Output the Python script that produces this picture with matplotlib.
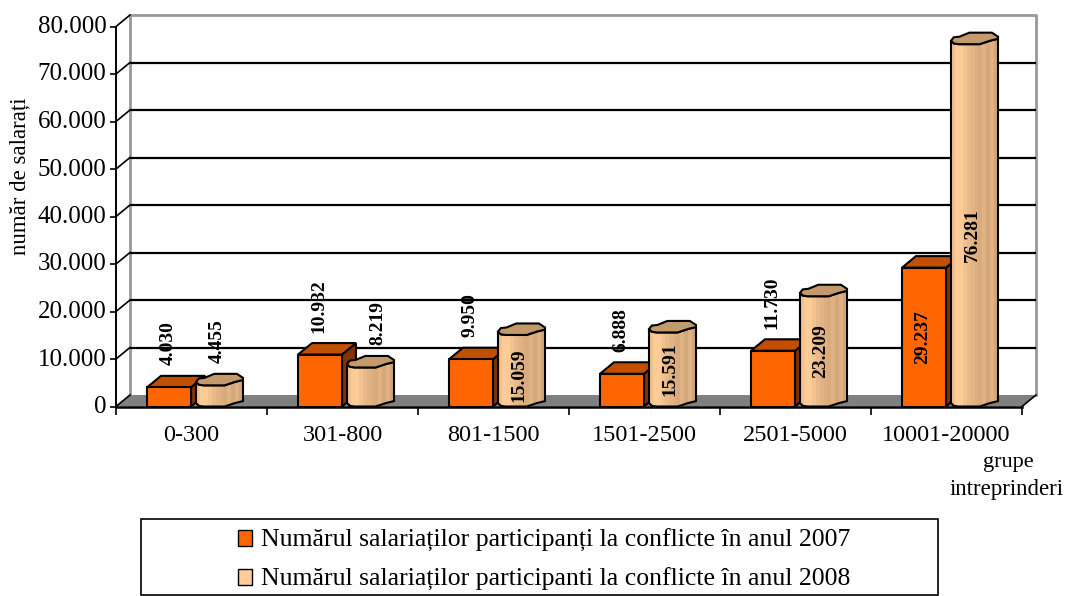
import numpy as np
import matplotlib
matplotlib.use("Agg")
import matplotlib.pyplot as plt
from matplotlib.patches import Polygon, Rectangle, Patch
from matplotlib.transforms import ScaledTranslation

# =========================
# Data
# =========================
categories = ["0-300", "301-800", "801-1500", "1501-2500", "2501-5000", "10001-20000"]
values_2007 = [4030, 10932, 9950, 6888, 11730, 29237]
values_2008 = [4455, 8219, 15059, 15591, 23209, 76281]
y_ticks = [0, 10000, 20000, 30000, 40000, 50000, 60000, 70000, 80000]
legend_labels = [
    "Numărul salariaților participanți la conflicte în anul 2007",
    "Numărul salariaților participanti la conflicte în anul 2008",
]

# =========================
# Setup
# =========================
plt.rcParams["font.family"] = ["Liberation Serif", "DejaVu Serif"]

W, H = 1068, 596
fig = plt.figure(figsize=(W / 100, H / 100), dpi=100)
ax = fig.add_axes([116 / W, (H - 406.5) / H, 906 / W, 380 / H])
ax.set_xlim(0, 6)
ax.set_ylim(0, 80000)

# pixels to data units
px_x = 6 / 906
px_y = 80000 / 380
depth_x = 14 * px_x
depth_y = 11.5 * px_y

ORANGE = "#ff6600"
ORANGE_TOP = "#c04f00"
ORANGE_SIDE = "#803300"
TAN_TOP = "#c49a6c"
tan_strips = ["#f2c08f", "#fdcb98", "#fccb98", "#f2c28f", "#e8b98a", "#e2b485",
              "#dcae80", "#d8aa7c", "#e0b385", "#d4a878", "#dfb184", "#d2a678"]

# irregular cylinder outline (fraction of width, fraction of depth)
cap_upper = [(0, .3), (.06, .6), (.18, .65), (.39, 1), (.87, 1), (1, .65)]
cap_lower = [(1, .47), (.83, .3), (.61, 0), (.16, 0), (.06, .06), (0, .3)]

# =========================
# Back wall, floor, grid
# =========================
ax.add_patch(Polygon([(0, 0), (depth_x, depth_y), (6 + depth_x, depth_y), (6, 0)],
                     facecolor="#808080", edgecolor="none", zorder=1.2, clip_on=False))
ax.plot([depth_x, depth_x, 6 + depth_x, 6 + depth_x],
        [depth_y, 80000 + depth_y, 80000 + depth_y, depth_y],
        color="#999999", lw=2, zorder=1.1, clip_on=False)
for v in y_ticks[1:-1]:
    ax.plot([depth_x, 6 + depth_x], [v + depth_y, v + depth_y], color="black", lw=1.6,
            zorder=1.3, clip_on=False, solid_capstyle="butt")
for v in y_ticks:
    ax.plot([0, depth_x], [v, v + depth_y], color="black", lw=1.2, zorder=1.3, clip_on=False)
ax.plot([6, 6 + depth_x], [0, depth_y], color="black", lw=1.2, zorder=1.3, clip_on=False)


def draw_box(x0, value, z):
    w = 44 * px_x
    ax.add_patch(Polygon([(x0 + w, 0), (x0 + w + depth_x, depth_y),
                          (x0 + w + depth_x, value + depth_y), (x0 + w, value)],
                         facecolor=ORANGE_SIDE, edgecolor="black", lw=1.5, zorder=z, clip_on=False))
    ax.add_patch(Polygon([(x0, value), (x0 + depth_x, value + depth_y),
                          (x0 + w + depth_x, value + depth_y), (x0 + w, value)],
                         facecolor=ORANGE_TOP, edgecolor="black", lw=1.5, zorder=z, clip_on=False))
    ax.add_patch(Rectangle((x0, 0), w, value, facecolor=ORANGE, edgecolor="black",
                           lw=1.5, zorder=z + .1, clip_on=False))


def draw_cylinder(x0, value, z):
    w = 47 * px_x
    lower_top = [(x0 + u * w, value + v * depth_y) for u, v in cap_lower]
    lower_bot = [(x0 + u * w, v * depth_y) for u, v in cap_lower]
    body = lower_top + lower_bot[::-1]
    ax.add_patch(Polygon(body, facecolor="none", edgecolor="black", lw=1.5, zorder=z + .2, clip_on=False))
    clip = Polygon(body, transform=ax.transData)
    strip_w = w / len(tan_strips)
    for i, c in enumerate(tan_strips):
        r = Rectangle((x0 + i * strip_w, 0), strip_w * 1.05, value + depth_y, facecolor=c,
                      edgecolor="none", zorder=z + .1, clip_on=True)
        ax.add_patch(r)
        r.set_clip_path(clip)
    cap = [(x0 + u * w, value + v * depth_y) for u, v in cap_upper + cap_lower]
    ax.add_patch(Polygon(cap, facecolor=TAN_TOP, edgecolor="black", lw=1.5,
                         zorder=z + .3, clip_on=False))


# =========================
# Bars and labels
# =========================
# small hand nudges (px) where the original label sits off its usual spot
label_nudge = {8219: (10, 0), 76281: (0, -10), 15059: (0, -4)}


def point_label(xc, value):
    text = f"{value:,}".replace(",", ".")
    nx, ny = label_nudge.get(value, (0, 0))
    if value >= 15000:
        ax.text(xc + nx * px_x, value / 2 + ny * px_y, text, rotation=90, ha="center", va="center",
                fontsize=14, fontweight="bold", zorder=20)
    else:
        ax.text(xc + nx * px_x, value + 22 * px_y, text, rotation=90, ha="center", va="bottom",
                fontsize=14, fontweight="bold", zorder=20)


for i, (a, b) in enumerate(zip(values_2007, values_2008)):
    box_x = i + 31 * px_x
    cyl_x = i + 80 * px_x
    draw_box(box_x, a, 3 + i)
    draw_cylinder(cyl_x, b, 3.5 + i)
    point_label(box_x + 21 * px_x, a)
    point_label(cyl_x + 21 * px_x, b)

# =========================
# Axes
# =========================
for side in ["top", "right"]:
    ax.spines[side].set_visible(False)
ax.spines["left"].set_linewidth(1.4)
ax.spines["bottom"].set_linewidth(1.8)
ax.spines["bottom"].set_zorder(15)
ax.patch.set_visible(False)

ax.set_yticks(y_ticks)
ax.set_yticklabels([f"{v:,}".replace(",", ".") if v else "0" for v in y_ticks], fontsize=18)
ax.tick_params(axis="y", length=4, width=1.2, pad=3)
shift_up = ScaledTranslation(0, 2 / 100, fig.dpi_scale_trans)
for lab in ax.get_yticklabels():
    lab.set_transform(lab.get_transform() + shift_up)
ax.set_xticks(range(7))
ax.set_xticklabels([])
ax.set_xticks(np.arange(6) + .5, minor=True)
ax.set_xticklabels(categories, minor=True, fontsize=17.5)
ax.tick_params(axis="x", which="major", length=6, width=1.2)
ax.tick_params(axis="x", which="minor", length=0, pad=13)

fig.text(20 / W, 1 - 176 / H, "număr de salarați", rotation=90, ha="center", va="center", fontsize=16.5)
fig.text(1008 / W, 1 - 462 / H, "grupe", ha="center", va="center", fontsize=16)
fig.text(1007 / W, 1 - 490 / H, "intreprinderi", ha="center", va="center", fontsize=16.5)

# =========================
# Legend
# =========================
fig.patches.append(Rectangle((141 / W, 1 - 595 / H), 797 / W, 76 / H, transform=fig.transFigure,
                             facecolor="white", edgecolor="black", lw=1.2))
handles = [Patch(facecolor=ORANGE, edgecolor="black"), Patch(facecolor="#ffcc99", edgecolor="black")]
fig.legend(handles, legend_labels, loc="center", bbox_to_anchor=(544 / W, 1 - 560 / H),
           frameon=False, fontsize=18.5, handlelength=0.55, handleheight=0.55, handletextpad=0.35,
           labelspacing=0.62)

fig.savefig("out.png", dpi=100)
